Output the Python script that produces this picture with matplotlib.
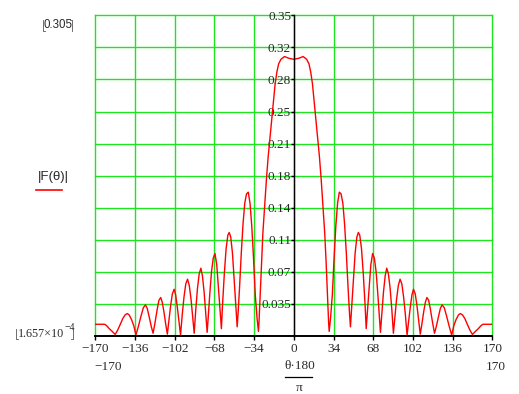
import matplotlib
matplotlib.use("Agg")
import matplotlib.pyplot as plt
from matplotlib.lines import Line2D

# ---- data (theta in degrees, |F(theta)|) ----
theta_right = [0, 4, 8, 11, 13, 14.5, 16, 17.5, 19, 20.5, 22, 23.5, 25, 26.5, 27.7, 28.8, 29.8, 30.3,
               31.5, 33, 34.5, 36, 37.5, 39, 40.5, 42, 43.5, 45, 46.5, 47.7, 48.5,
               49.5, 51, 52.5, 54, 55.3, 56.5, 58, 59.5, 61, 62,
               63, 64.5, 66, 67.5, 69, 70.5, 72, 73.3, 74.2,
               75.3, 76.8, 78.3, 79.6, 81, 82.5, 84, 85.3,
               86.5, 88, 89.5, 91, 92.5, 94, 95.5, 97,
               98.3, 99.8, 101.2, 102.5, 104, 105.5, 107, 108.3,
               109.7, 111.3, 112.7, 114, 115.5, 117, 118.8, 120.5,
               122, 123.7, 125.5, 127, 128.8, 130.8, 133, 135.2,
               137, 139, 141, 142.6, 144.5, 146.5, 148.5, 151, 153,
               155.5, 158, 160.5, 162, 170]
F_right = [0.302, 0.303, 0.305, 0.302, 0.297, 0.288, 0.275, 0.255, 0.236, 0.215, 0.195, 0.170, 0.141, 0.112, 0.080, 0.045, 0.015, 0.005,
           0.020, 0.045, 0.085, 0.120, 0.145, 0.157, 0.155, 0.145, 0.122, 0.090, 0.052, 0.025, 0.010,
           0.030, 0.060, 0.090, 0.108, 0.113, 0.110, 0.095, 0.068, 0.035, 0.008,
           0.025, 0.052, 0.078, 0.090, 0.085, 0.070, 0.045, 0.020, 0.004,
           0.022, 0.048, 0.066, 0.074, 0.068, 0.052, 0.028, 0.003,
           0.020, 0.040, 0.055, 0.062, 0.057, 0.043, 0.024, 0.001,
           0.015, 0.032, 0.045, 0.051, 0.046, 0.033, 0.016, 0.002,
           0.013, 0.027, 0.037, 0.042, 0.039, 0.029, 0.015, 0.003,
           0.010, 0.020, 0.030, 0.034, 0.031, 0.022, 0.011, 0.001,
           0.011, 0.018, 0.023, 0.0245, 0.023, 0.019, 0.013, 0.006, 0.0017,
           0.005, 0.008, 0.0115, 0.0128, 0.0128]

theta_left = [-t for t in reversed(theta_right)]
F_left = list(reversed(F_right))
theta = theta_left[:-1] + theta_right
F = F_left[:-1] + F_right

x_ticks = [-170, -136, -102, -68, -34, 0, 34, 68, 102, 136, 170]
y_ticks = [0.035, 0.07, 0.105, 0.14, 0.175, 0.21, 0.245, 0.28, 0.315, 0.35]
y_tick_labels = ["0.035", "0.07", "0.11", "0.14", "0.18", "0.21", "0.25", "0.28", "0.32", "0.35"]
y_max_label = "0.305"
y_min_label = "1.657×10"
y_min_exp = "−4"
x_min_label = "−170"
x_max_label = "170"

# ---- figure ----
W, H = 519, 394
fig = plt.figure(figsize=(W / 100, H / 100), dpi=100)
L, R, T, B = 95.3, 492.3, 15.3, 336.0
ax = fig.add_axes([L / W, 1 - B / H, (R - L) / W, (B - T) / H])
ax.set_xlim(-170, 170)
ax.set_ylim(0, 0.35)

def fx(x):
    return x / W

def fy(y):
    return 1 - y / H

green = "#1ee61e"
for xv in x_ticks:
    ax.axvline(xv, color=green, lw=1.0, zorder=1, clip_on=False)
for yv in y_ticks:
    ax.axhline(yv, color=green, lw=1.0, zorder=1, clip_on=False)

ax.plot(theta, F, color="#ff0000", lw=1.0, zorder=3)

for s in ["top", "right"]:
    ax.spines[s].set_visible(False)
ax.spines["bottom"].set_color("black")
ax.spines["bottom"].set_linewidth(1.4)
ax.spines["bottom"].set_zorder(4)
ax.spines["left"].set_position(("data", 0))
ax.spines["left"].set_color("black")
ax.spines["left"].set_linewidth(1.0)
ax.spines["left"].set_zorder(4)

serif = "Liberation Serif"
sans = "Liberation Sans"
tcol = "#2a2a2a"
fs = 9.5

ax.set_xticks(x_ticks)
ax.set_xticklabels([str(v).replace("-", "−") for v in x_ticks], family=serif, fontsize=fs, color=tcol)
ax.set_yticks(y_ticks)
ax.set_yticklabels(y_tick_labels, family=serif, fontsize=fs, color=tcol)
ax.tick_params(axis="x", direction="out", length=3, width=1, color="black", pad=2)
ax.tick_params(axis="y", direction="out", length=2, width=1, color="black", pad=0)
for lab in ax.get_yticklabels():
    lab.set_zorder(5)

# extra Mathcad-style labels
fig.text(fx(94), fy(367), x_min_label, family=serif, fontsize=fs, color=tcol, ha="left", va="center")
fig.text(fx(506), fy(367), x_max_label, family=serif, fontsize=fs, color=tcol, ha="right", va="center")
fig.text(fx(299.5), fy(366), "θ·180", family=serif, fontsize=fs, color=tcol, ha="center", va="center")
fig.add_artist(Line2D([fx(284.5), fx(312.3)], [fy(376.5), fy(376.5)], color="black", lw=0.9))
fig.text(fx(299), fy(388), "π", family=serif, fontsize=fs, color=tcol, ha="center", va="center")

fig.text(fx(53.5), fy(176.5), "|F(θ)|", family=sans, fontsize=9.5, color=tcol, ha="center", va="center")
fig.add_artist(Line2D([fx(36), fx(62)], [fy(190.3), fy(190.3)], color="#ff0000", lw=1.2))

fig.text(fx(57.5), fy(25.5), y_max_label, family=sans, fontsize=8.3, color=tcol, ha="center", va="center")
fig.add_artist(Line2D([fx(43), fx(43), fx(45)], [fy(20), fy(31), fy(31)], color="#555555", lw=0.6))
fig.add_artist(Line2D([fx(70), fx(72), fx(72)], [fy(20), fy(20), fy(31)], color="#555555", lw=0.6))

t_min = fig.text(fx(18), fy(334), y_min_label, family=serif, fontsize=8.7, color=tcol, ha="left", va="center")
fig.canvas.draw()
bb = t_min.get_window_extent(renderer=fig.canvas.get_renderer())
fig.text(bb.x1 / W + 0.5 / W, fy(327.5), y_min_exp, family=serif, fontsize=7, color=tcol, ha="left", va="center")
fig.add_artist(Line2D([fx(16), fx(16), fx(18)], [fy(329), fy(339), fy(339)], color="#555555", lw=0.6))
fig.add_artist(Line2D([fx(71), fx(73), fx(73)], [fy(339), fy(339), fy(329)], color="#555555", lw=0.6))

fig.savefig("out.png", dpi=100)
